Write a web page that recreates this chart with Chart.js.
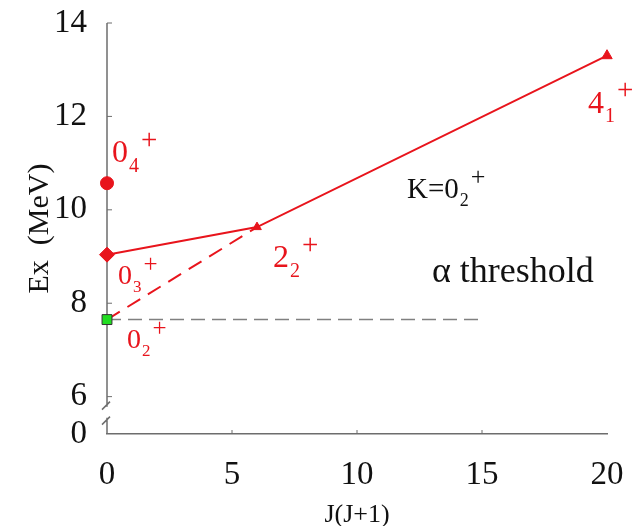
<!DOCTYPE html>
<html>
<head>
<meta charset="utf-8">
<script src="https://cdn.jsdelivr.net/npm/chart.js@4.4.1/dist/chart.umd.min.js"></script>
<style>
  html, body { margin: 0; padding: 0; background: #fff; }
  canvas { display: block; }
</style>
</head>
<body>
<canvas id="levelChart" width="632" height="526"></canvas>
<script>
// Ex (MeV) against J(J+1)
const bandJ = [0, 6, 20];              // 0_3+ -> 2_2+ -> 4_1+
const bandEx = [9.04, 9.63, 13.30];
const hoyleBandJ = [0, 6];             // 0_2+ -> 2_2+ (dashed)
const hoyleBandEx = [7.65, 9.63];
const state04J = [0];
const state04Ex = [10.57];
const hoyleJ = [0];
const hoyleEx = [7.65];
const thresholdJ = [0, 15];
const thresholdEx = [7.65, 7.65];

const xTicks = [0, 5, 10, 15, 20];
const yTicks = [6, 8, 10, 12, 14];
const yBreakValue = 5.2;   // bottom of the broken axis
const yBreakLabel = '0';

// state names
const labelMain = ['0', '0', '0', '2', '4'];
const labelSub = ['4', '3', '2', '2', '1'];
const labelJ = [0, 0, 0, 6, 20];
const labelEx = [10.57, 9.04, 7.65, 9.63, 13.30];

// label placement (px offset from the point, font size)
const labelPlace = [[5, -21, 32], [11, 29, 28], [20, 28, 28], [16, 40, 32], [-19, 57, 32]];

const RED = '#e8141c';
const AXIS = '#6d6d6d';
const SERIF = '"Liberation Serif", "Times New Roman", serif';

function pts(xs, ys) {
    return xs.map((x, i) => ({ x: x, y: ys[i] }));
}

function drawScript(ctx, x, y, main, sub, size, color) {
    ctx.fillStyle = color;
    ctx.textAlign = 'left';
    ctx.textBaseline = 'alphabetic';
    ctx.font = size + 'px ' + SERIF;
    ctx.fillText(main, x, y);
    const w = ctx.measureText(main).width;
    ctx.font = Math.round(size * 0.62) + 'px ' + SERIF;
    ctx.fillText(sub, x + w + 1, y + size * 0.3);
    const sw = ctx.measureText(sub).width;
    ctx.font = Math.round(size * 0.9) + 'px ' + SERIF;
    ctx.fillText('+', x + w + sw + 3, y - size * 0.42);
}

const decor = {
    id: 'decor',
    beforeDatasetsDraw(chart) {
        const ctx = chart.ctx;
        const xs = chart.scales.x, ys = chart.scales.y;
        const left = chart.chartArea.left, bottom = chart.chartArea.bottom;
        const y6 = ys.getPixelForValue(6);
        ctx.save();
        ctx.strokeStyle = AXIS;
        ctx.lineWidth = 1.5;
        // y axis with a break
        ctx.beginPath();
        ctx.moveTo(left, chart.chartArea.top);
        ctx.lineTo(left, y6 + 10);
        ctx.moveTo(left, y6 + 21);
        ctx.lineTo(left, bottom);
        // break marks
        ctx.moveTo(left - 5, y6 + 13);
        ctx.lineTo(left + 3, y6 + 5);
        ctx.moveTo(left - 5, y6 + 28);
        ctx.lineTo(left + 3, y6 + 20);
        ctx.stroke();
        // inward ticks
        ctx.lineWidth = 1;
        ctx.beginPath();
        xTicks.slice(1, -1).forEach(v => {
            const px = xs.getPixelForValue(v);
            ctx.moveTo(px, bottom);
            ctx.lineTo(px, bottom - 4);
        });
        yTicks.forEach(v => {
            const py = ys.getPixelForValue(v);
            ctx.moveTo(left, py);
            ctx.lineTo(left + 5, py);
        });
        ctx.stroke();
        ctx.restore();
    },
    afterDatasetsDraw(chart) {
        const ctx = chart.ctx;
        const xs = chart.scales.x, ys = chart.scales.y;
        ctx.save();
        labelMain.forEach((m, i) => {
            const p = labelPlace[i];
            const px = xs.getPixelForValue(labelJ[i]) + p[0];
            const py = ys.getPixelForValue(labelEx[i]) + p[1];
            drawScript(ctx, px, py, m, labelSub[i], p[2], RED);
        });
        drawScript(ctx, xs.getPixelForValue(12), ys.getPixelForValue(10.26), 'K=0', '2', 29, '#111');
        ctx.fillStyle = '#111';
        ctx.font = '36px ' + SERIF;
        ctx.textAlign = 'left';
        ctx.textBaseline = 'alphabetic';
        ctx.fillText('\u03b1 threshold', xs.getPixelForValue(13), ys.getPixelForValue(8.46));
        ctx.restore();
    }
};

const ctx = document.getElementById('levelChart').getContext('2d');
new Chart(ctx, {
    type: 'scatter',
    data: {
        datasets: [
            {
                data: pts(hoyleJ, hoyleEx),
                pointStyle: 'rect',
                pointRadius: 7,
                pointBackgroundColor: '#22dd22',
                pointBorderColor: '#333',
                pointBorderWidth: 1,
                clip: false,
                order: 0
            },
            {
                data: pts(bandJ, bandEx),
                showLine: true,
                borderColor: RED,
                borderWidth: 2,
                pointStyle: ['rectRot', 'triangle', 'triangle'],
                pointRadius: [7.5, 5, 6],
                pointBackgroundColor: RED,
                pointBorderColor: RED,
                pointBorderWidth: 1,
                clip: false,
                order: 1
            },
            {
                data: pts(state04J, state04Ex),
                pointStyle: 'circle',
                pointRadius: 6.5,
                pointBackgroundColor: RED,
                pointBorderColor: RED,
                clip: false,
                order: 1
            },
            {
                data: pts(hoyleBandJ, hoyleBandEx),
                showLine: true,
                borderColor: RED,
                borderWidth: 2,
                borderDash: [15, 9],
                pointRadius: 0,
                order: 2
            },
            {
                data: pts(thresholdJ, thresholdEx),
                showLine: true,
                borderColor: '#808080',
                borderWidth: 1.5,
                borderDash: [14, 7],
                pointRadius: 0,
                order: 3
            }
        ]
    },
    options: {
        responsive: false,
        animation: false,
        layout: { padding: { top: 23, right: 25, left: 0, bottom: 0 } },
        plugins: {
            legend: { display: false },
            tooltip: { enabled: false }
        },
        scales: {
            x: {
                type: 'linear',
                min: 0,
                max: 20,
                afterBuildTicks: s => { s.ticks = xTicks.map(v => ({ value: v })); },
                afterFit: s => { s.height = 92; s.paddingLeft = 0; s.paddingRight = 0; },
                grid: { display: false, drawTicks: false },
                border: { display: true, color: AXIS, width: 1.5 },
                ticks: { padding: 22, color: '#111', font: { family: SERIF, size: 33 } },
                title: {
                    display: true,
                    text: 'J(J+1)',
                    color: '#111',
                    font: { family: SERIF, size: 26, lineHeight: 0.8 },
                    padding: { top: 0, bottom: 0 }
                }
            },
            y: {
                type: 'linear',
                min: yBreakValue,
                max: 14,
                afterBuildTicks: s => { s.ticks = [yBreakValue].concat(yTicks).map(v => ({ value: v })); },
                afterFit: s => { s.width = 107; s.paddingTop = 0; s.paddingBottom = 0; },
                grid: { display: false, drawTicks: false },
                border: { display: false },
                ticks: {
                    padding: 20,
                    color: '#111',
                    font: { family: SERIF, size: 33 },
                    callback: v => (v === yBreakValue ? yBreakLabel : v)
                },
                title: {
                    display: true,
                    text: 'Ex  (MeV)',
                    color: '#111',
                    font: { family: SERIF, size: 30 },
                    padding: { top: 22, bottom: 0 }
                }
            }
        }
    },
    plugins: [decor]
});
</script>
</body>
</html>
